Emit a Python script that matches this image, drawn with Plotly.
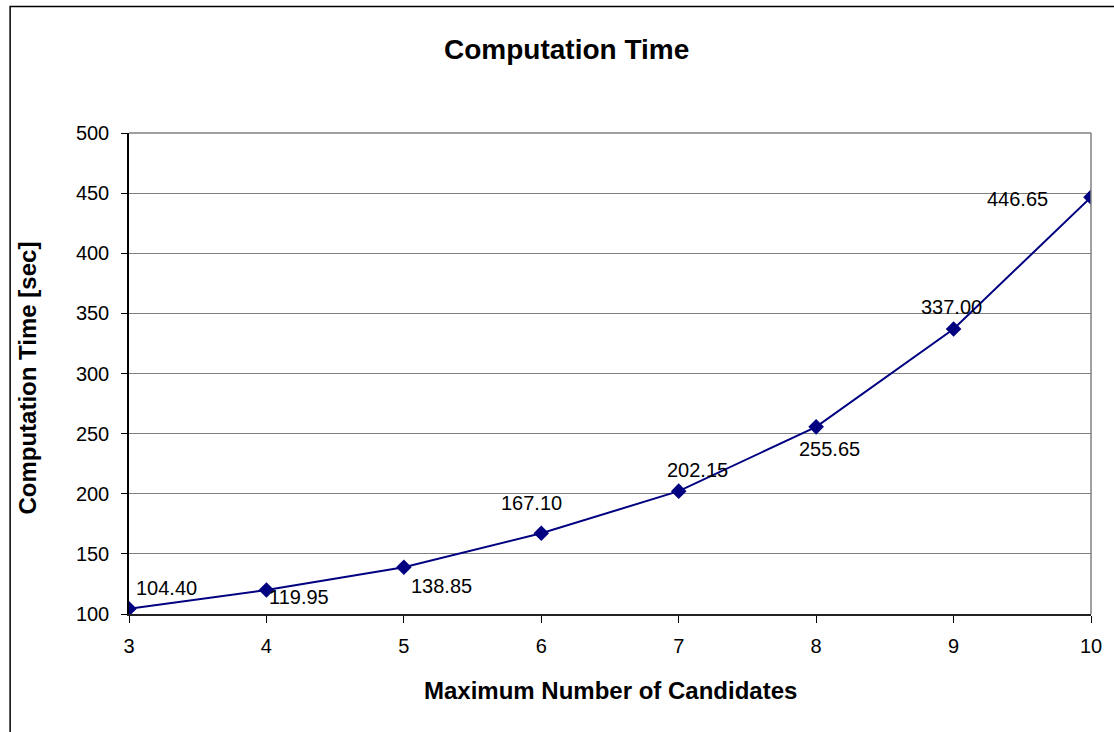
import plotly.graph_objects as go

# Data
candidates = [3, 4, 5, 6, 7, 8, 9, 10]
comp_time = [104.40, 119.95, 138.85, 167.10, 202.15, 255.65, 337.00, 446.65]
y_ticks = [100, 150, 200, 250, 300, 350, 400, 450, 500]

# Label offsets (pixels) relative to each point
label_dx = [37, 33, 38, -10, 19, 13, -2, -74]
label_dy = [-21, 7, 19, -30, -21, 22, -22, 2]

W, H = 1114, 732
L, R, T, B = 129, 18, 133, 118
PW, PH = W - L - R, H - T - B

def px(x):
    return (x - L) / PW

def py(y):
    return (H - B - y) / PH

FONT = "Liberation Sans, Arial, sans-serif"
NAVY = "#000080"

fig = go.Figure()
fig.add_trace(go.Scatter(
    x=candidates, y=comp_time, mode="lines+markers",
    line=dict(color=NAVY, width=2),
    marker=dict(symbol="diamond", size=12, color=NAVY),
    showlegend=False, hoverinfo="x+y",
))

annotations = []
for x, y, dx, dy in zip(candidates, comp_time, label_dx, label_dy):
    annotations.append(dict(
        x=x, y=y, xref="x", yref="y", text=f"{y:.2f}", showarrow=False,
        xshift=dx, yshift=-dy, font=dict(family=FONT, size=20, color="black"),
        xanchor="center", yanchor="middle",
    ))

# Chart title and axis titles
annotations.append(dict(
    x=px(569), y=py(49), xref="paper", yref="paper", text="<b>Computation Time</b>",
    showarrow=False, xanchor="center", yanchor="middle",
    font=dict(family=FONT, size=28, color="black"),
))
annotations.append(dict(
    x=px(612.5), y=py(690), xref="paper", yref="paper", text="<b>Maximum Number of Candidates</b>",
    showarrow=False, xanchor="center", yanchor="middle",
    font=dict(family=FONT, size=24, color="black"),
))
annotations.append(dict(
    x=px(26), y=py(378), xref="paper", yref="paper", text="<b>Computation Time [sec]</b>",
    showarrow=False, xanchor="center", yanchor="middle", textangle=-90,
    font=dict(family=FONT, size=24, color="black"),
))

shapes = [
    # outer chart frame
    dict(type="rect", xref="paper", yref="paper",
         x0=px(9.5), y0=py(760), x1=px(1140), y1=py(6.5),
         line=dict(color="black", width=1.5), layer="below"),
    # plot area top and right edges
    dict(type="line", xref="paper", yref="paper", x0=0, y0=1, x1=1, y1=1,
         line=dict(color="#808080", width=1.5)),
    dict(type="line", xref="paper", yref="paper", x0=1, y0=0, x1=1, y1=1,
         line=dict(color="#808080", width=1.5)),
]

fig.update_layout(
    width=W, height=H,
    margin=dict(l=L, r=R, t=T, b=B, pad=0),
    paper_bgcolor="white", plot_bgcolor="white",
    font=dict(family=FONT, size=20, color="black"),
    annotations=annotations, shapes=shapes,
    xaxis=dict(
        range=[3, 10], tickmode="array", tickvals=candidates,
        showgrid=False, zeroline=False,
        showline=True, linecolor="#222222", linewidth=2,
        ticks="outside", ticklen=7, tickcolor="black", tickwidth=1,
        tickfont=dict(family=FONT, size=20, color="black"),
        ticklabelstandoff=6,
    ),
    yaxis=dict(
        range=[100, 500], tickmode="array", tickvals=y_ticks,
        showgrid=True, gridcolor="#808080", gridwidth=1,
        zeroline=False,
        showline=True, linecolor="black", linewidth=1.5,
        ticks="outside", ticklen=6, tickcolor="black", tickwidth=1,
        tickfont=dict(family=FONT, size=20, color="black"),
        ticklabelstandoff=8,
    ),
)

fig.write_html("out.html")
